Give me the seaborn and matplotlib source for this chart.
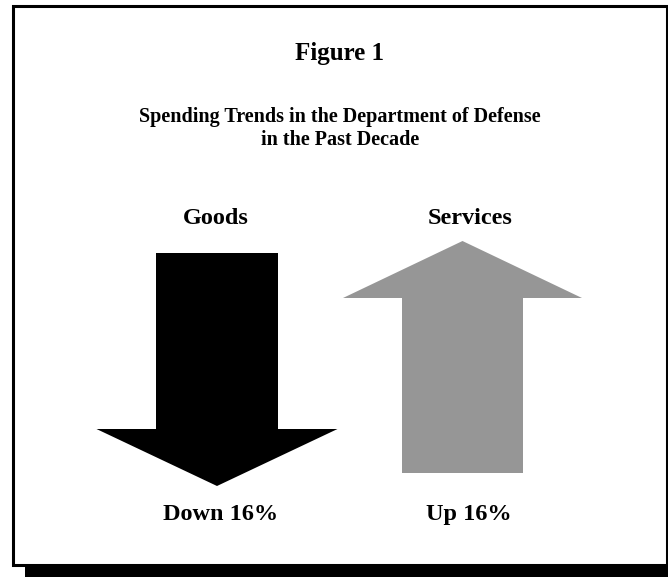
import matplotlib
matplotlib.use("Agg")
import matplotlib.pyplot as plt
from matplotlib.patches import Polygon, Rectangle
import seaborn as sns

# ---- data ----
categories = ["Goods", "Services"]
changes = [-16, 16]            # percent change over the decade
bottom_labels = ["Down 16%", "Up 16%"]
arrow_colors = ["#000000", "#969696"]
figure_label = "Figure 1"
title_lines = ["Spending Trends in the Department of Defense", "in the Past Decade"]

sns.set_theme(style="white")
plt.rcParams["font.family"] = ["Liberation Serif", "DejaVu Serif"]

W, H = 668, 577
fig = plt.figure(figsize=(W / 100, H / 100), dpi=100)
ax = fig.add_axes([0, 0, 1, 1])
ax.set_xlim(0, W)
ax.set_ylim(H, 0)
ax.axis("off")

# frame with drop shadow
ax.add_patch(Rectangle((25, 17), 660, 565, facecolor="black", edgecolor="none", zorder=1))
ax.add_patch(Rectangle((12.5, 5.5), 654, 559, facecolor="white", edgecolor="black",
                       linewidth=2.2, zorder=2))

# layout for arrows (pixel space)
centers = [217, 462.5]
shaft_half = [61, 60.5]
head_half = [120.5, 119.5]
tails = [253, 473]       # end of shaft away from head
head_bases = [429, 298]
tips = [486, 241]

for i, ch in enumerate(changes):
    cx = centers[i]
    sh, hh = shaft_half[i], head_half[i]
    t, hb, tip = tails[i], head_bases[i], tips[i]
    pts = [(cx - sh, t), (cx + sh, t), (cx + sh, hb), (cx + hh, hb),
           (cx, tip), (cx - hh, hb), (cx - sh, hb)]
    ax.add_patch(Polygon(pts, closed=True, facecolor=arrow_colors[i],
                         edgecolor="none", zorder=3))

bold = dict(fontweight="bold", color="black", ha="center", va="baseline", zorder=4)
ax.text(339.5, 60, figure_label, fontsize=18, **bold)
ax.text(340, 122, title_lines[0], fontsize=14.5, **bold)
ax.text(340, 145, title_lines[1], fontsize=14.5, **bold)

top_x = [215.5, 470]
bot_x = [220.5, 469]
for i, cat in enumerate(categories):
    ax.text(top_x[i], 224, cat, fontsize=17.5, **bold)
    ax.text(bot_x[i], 520, bottom_labels[i], fontsize=17.5, **bold)

fig.savefig("out.png", dpi=100)
